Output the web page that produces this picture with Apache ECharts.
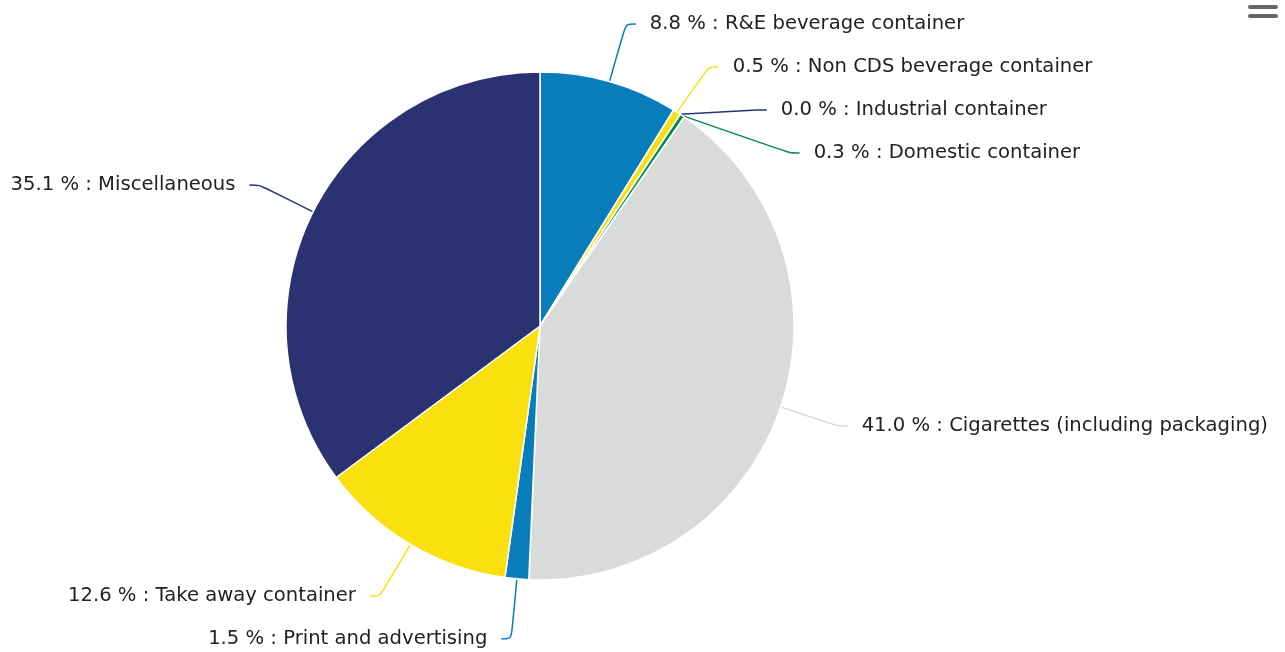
<!DOCTYPE html>
<html><head><meta charset="utf-8">
<script src="https://cdn.jsdelivr.net/npm/echarts@6/dist/echarts.min.js"></script>
<style>html,body{margin:0;padding:0;background:#fff}#c{width:1285px;height:652px}</style>
</head><body><div id="c"></div>
<script>
var categories = ['R&E beverage container','Non CDS beverage container','Industrial container','Domestic container','Cigarettes (including packaging)','Print and advertising','Take away container','Miscellaneous'];
var values = [8.8, 0.5, 0.0, 0.3, 41.0, 1.5, 12.6, 35.1];
var colors = ['#087dbb','#fbe00f','#2a3272','#008c46','#d9dbdb','#087dbb','#fbe00f','#2a3272'];
var labelLineHeights = [41, 41, 41, 41, 24, 24, 24, 24];

var chart = echarts.init(document.getElementById('c'));
chart.setOption({
  animation: false,
  graphic: [
    {type:'rect', right: 7, top: 5, shape:{width:30,height:4,r:2}, style:{fill:'#666'}},
    {type:'rect', right: 7, top: 14, shape:{width:30,height:4,r:2}, style:{fill:'#666'}}
  ],
  series: [{
    type: 'pie',
    center: [540, 326],
    radius: 254,
    startAngle: 90,
    clockwise: true,
    minAngle: 0,
    avoidLabelOverlap: true,
    itemStyle: {borderColor: '#fff', borderWidth: 1.5},
    label: {
      fontFamily: 'DejaVu Sans',
      fontSize: 19.6,
      color: '#222',
      distanceToLabelLine: 14,
      formatter: function(p){ return p.value.toFixed(1) + ' % : ' + p.name; }
    },
    labelLine: {length: 60, length2: 10, smooth: 0.3, lineStyle:{width:1.5}},
    data: categories.map(function(c,i){ return {name:c, value:values[i], itemStyle:{color:colors[i]}, label:{lineHeight: labelLineHeights[i]}}; })
  }]
});
</script></body></html>
